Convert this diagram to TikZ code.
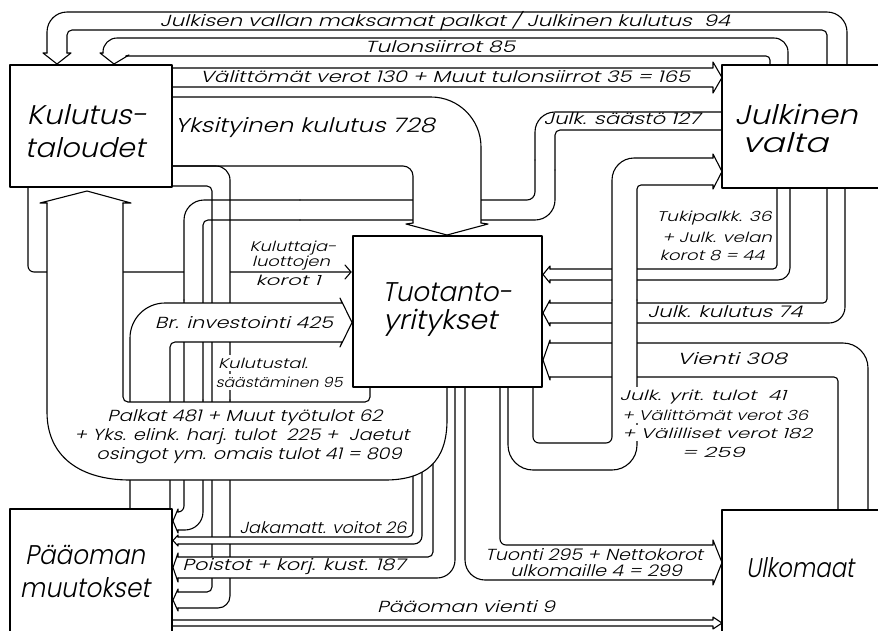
\documentclass[tikz,border=0pt]{standalone}
\usepackage{fontspec}
\usepackage{graphicx}
\setmainfont{DejaVu Sans}
\newfontfamily\tf{Poppins Light}[FakeSlant=0.21]
\newcommand\fitw[2]{\resizebox{#1pt}{\height}{#2}}
\begin{document}
\begin{tikzpicture}[x=1pt,y=-1pt,line width=1.1pt,line join=round,line cap=round]
\tikzset{
 bx/.style={draw,line width=2.2pt,fill=white,inner sep=0pt},
 lb/.style={inner sep=0pt},
 fB/.style={font=\tf\fontsize{27}{30}\selectfont},
 fY/.style={font=\tf\fontsize{20}{22}\selectfont},
 fM/.style={font=\tf\fontsize{16}{18}\selectfont},
 fS/.style={font=\tf\fontsize{14}{16}\selectfont},
 wb/.style={fill=white,inner ysep=3pt}
}
\fill[white] (0,0) rectangle (878,630);
\useasboundingbox (0,0) rectangle (878,630);

% Kuluttajaluottojen korot
\draw[rounded corners=6pt] (28,187) -- (28,272) -- (351,272);
\draw (345,265) -- (351,272) -- (345,279);
\fill[white] (184,262) rectangle (230,282);

% Julk. saasto 127
\draw[rounded corners=20pt] (722,112) -- (535,112) -- (535,160);
\draw[rounded corners=8pt] (535,160) -- (535,200) -- (300,200);
\draw[rounded corners=20pt] (300,200) -- (184,200) -- (184,300);
\draw[rounded corners=6pt] (184,300) -- (184,512) -- (178,512);
\draw[rounded corners=5pt] (722,130) -- (555,130) -- (555,170);
\draw[rounded corners=20pt] (555,170) -- (555,220) -- (300,220);
\draw[rounded corners=5pt] (300,220) -- (203,220) -- (203,400);
\draw[rounded corners=18pt] (203,400) -- (203,530) -- (178,530);
\draw (178,512) -- (178,509) -- (173,521) -- (178,533) -- (178,530);

% Kulutustal. saastaminen 95
\draw[rounded corners=14pt] (172,166) -- (230,166) -- (230,400);
\draw[rounded corners=12pt] (230,400) -- (230,608) -- (178,608);
\draw[rounded corners=5pt] (172,186) -- (212,186) -- (212,592) -- (178,592);
\draw (178,592) -- (178,589) -- (173,600) -- (178,611) -- (178,608);

% Br. investointi 425
\fill[white] (133,303) rectangle (342,342);
\draw[rounded corners=35pt] (130,509) -- (130,303) -- (342,303);
\draw[rounded corners=5pt] (170,509) -- (170,342) -- (342,342);
\draw (342,303) -- (340,298) -- (352,322.5) -- (340,347) -- (342,342);

% Jakamatt. voitot 26
\fill[white] (205,537) rectangle (235,544);
\draw[rounded corners=5pt] (413,387) -- (413,537) -- (178,537);
\draw[rounded corners=8pt] (422,387) -- (422,544) -- (178,544);
\draw (178,537) -- (178,535) -- (173,540.5) -- (178,546) -- (178,544);

% Poistot 187
\fill[white] (205,557) rectangle (235,578);
\draw[rounded corners=5pt] (433,387) -- (433,557) -- (178,557);
\draw[rounded corners=18pt] (455,387) -- (455,578) -- (178,578);
\draw (178,557) -- (178,553) -- (173,567.5) -- (178,582) -- (178,578);

% Palkat ... = 809
\fill[white] (447,387) -- (447,420) .. controls (447,462) and (425,480) .. (385,480) -- (130,480) .. controls (82,480) and (47,458) .. (47,412) -- (47,203) -- (123,203) -- (123,402) -- (370,402) -- (370,387) -- cycle;
\draw (447,387) -- (447,420) .. controls (447,462) and (425,480) .. (385,480) -- (130,480) .. controls (82,480) and (47,458) .. (47,412) -- (47,203);
\draw[rounded corners=5pt] (123,203) -- (123,402) -- (370,402) -- (370,387);
\draw (47,203) -- (40,203) -- (87,191) -- (131,203) -- (123,203);

% Yksityinen kulutus 728
\fill[white] (413,180) rectangle (481,223);
\draw[rounded corners=50pt] (172,97) -- (481,97) -- (481,223);
\draw[rounded corners=10pt] (172,166) -- (413,166) -- (413,223);
\draw (413,223) -- (406,224) -- (447,235) -- (488,224) -- (481,223);

% Tukipalkk. 44
\draw[rounded corners=12pt] (790,188) -- (790,280) -- (550,280);
\draw[rounded corners=4pt] (777,188) -- (777,269) -- (550,269);
\draw (550,269) -- (550,266) -- (543,274.5) -- (550,283) -- (550,280);

% Julk. kulutus 74
\draw[rounded corners=16pt] (845,188) -- (845,323) -- (550,323);
\draw[rounded corners=4pt] (827,188) -- (827,303) -- (550,303);
\draw (550,303) -- (550,300) -- (543,313) -- (550,326) -- (550,323);

% Vienti 308
\draw[rounded corners=25pt] (868,510) -- (868,343) -- (550,343);
\draw[rounded corners=4pt] (838,510) -- (838,377) -- (550,377);
\draw (550,343) -- (550,340) -- (543,360) -- (550,380) -- (550,377);

% 259
\fill[white] (612,186) rectangle (637,443);
\draw[rounded corners=25pt] (508,387) -- (508,470) -- (637,470) -- (637,300);
\draw[rounded corners=4pt] (637,300) -- (637,185) -- (713,185);
\draw[rounded corners=6pt] (533,387) -- (533,443) -- (612,443) -- (612,300);
\draw[rounded corners=22pt] (612,300) -- (612,158) -- (713,158);
\draw (713,158) -- (713,154) -- (722,171.5) -- (713,189) -- (713,185);

% Julkisen vallan maksamat palkat 94
\draw[rounded corners=20pt] (847,65) -- (847,12) -- (47,12) -- (47,53);
\draw[rounded corners=5pt] (827,65) -- (827,30) -- (67,30) -- (67,53);
\draw (47,53) -- (43,53) -- (57,64) -- (71,53) -- (67,53);

% Tulonsiirrot 85
\draw[rounded corners=14pt] (788,65) -- (788,38) -- (103,38) -- (103,53);
\draw[rounded corners=4pt] (770,65) -- (770,56) -- (126,56);
\draw (103,53) -- (100,53) -- (114,64) -- (129,55) -- (126,56);

% Valittomat verot 165
\draw (172,68) -- (713,68) -- (713,62) -- (722,77.5) -- (713,93) -- (713,87) -- (172,87);

% Tuonti 299
\draw[rounded corners=20pt] (465,387) -- (465,580) -- (713,580);
\draw[rounded corners=6pt] (500,387) -- (500,545) -- (713,545);
\draw (713,545) -- (713,540) -- (722,562.5) -- (713,585) -- (713,580);

% Paaoman vienti 9
\draw (172,620) -- (713,620) -- (713,617) -- (722,623) -- (713,629) -- (713,626) -- (172,626);

% boxes
\node[bx,minimum width=162pt,minimum height=122pt] (kt) at (91,126) {};
\node[bx,minimum width=162pt,minimum height=123pt] (jv) at (803,126.5) {};
\node[bx,minimum width=189pt,minimum height=151pt] (ty) at (447.5,311.5) {};
\node[bx,minimum width=162pt,minimum height=131pt] (pm) at (91,574.5) {};
\node[bx,minimum width=162pt,minimum height=130pt] (uk) at (803,575) {};

% box labels
\node[lb,fB] (b1a) at (87,115) {\fitw{120}{Kulutus-}};
\node[lb,fB] (b1b) at (85,148) {\fitw{120}{taloudet}};
\node[lb,fB] (b2a) at (796,114) {\fitw{123}{Julkinen}};
\node[lb,fB] (b2b) at (785,143) {\fitw{86}{valta}};
\node[lb,fB] (b3a) at (447,292) {\fitw{130}{Tuotanto-}};
\node[lb,fB] (b3b) at (440,323) {\fitw{114}{yritykset}};
\node[lb,fB] (b4a) at (85,555) {\fitw{120}{Pääoman}};
\node[lb,fB] (b4b) at (85,588) {\fitw{130}{muutokset}};
\node[lb,fB] (b5) at (800,568) {\fitw{108}{Ulkomaat}};

% flow labels
\node[lb,fM] (t1) at (445,21) {\fitw{570}{Julkisen vallan maksamat palkat / Julkinen kulutus\ \ 94}};
\node[lb,fM] (t2) at (440,47) {\fitw{150}{Tulonsiirrot 85}};
\node[lb,fM] (t3) at (445,77) {\fitw{490}{Välittömät verot 130 + Muut tulonsiirrot 35 = 165}};
\node[lb,fY] (t4) at (305,128) {\fitw{260}{Yksityinen kulutus 728}};
\node[lb,fM] (t5) at (622,119) {\fitw{157}{Julk. säästö 127}};
\node[lb,fS] (t6a) at (293,248) {\fitw{87}{Kuluttaja-}};
\node[lb,fS] (t6b) at (291,263) {\fitw{78}{luottojen}};
\node[lb,fS] (t6c) at (288,280) {\fitw{65}{korot 1}};
\node[lb,fM] (t7) at (244,323) {\fitw{178}{Br. investointi 425}};
\node[lb,fS,wb] (t8a) at (263,363) {\fitw{90}{Kulutustal.}};
\node[lb,fS,wb] (t8b) at (279,382) {\fitw{127}{säästäminen 95}};
\node[lb,fM] (t9a) at (245,418) {\fitw{275}{Palkat 481 + Muut työtulot 62}};
\node[lb,fM] (t9b) at (242,437) {\fitw{335}{+ Yks. elink. harj. tulot\ \ 225 +\ \ Jaetut}};
\node[lb,fM] (t9c) at (249,456) {\fitw{305}{osingot ym. omais tulot 41 = 809}};
\node[lb,fS] (t10a) at (714,218) {\fitw{115}{Tukipalkk. 36}};
\node[lb,fS] (t10b) at (717,237) {\fitw{110}{+ Julk. velan}};
\node[lb,fS] (t10c) at (712,255) {\fitw{105}{korot 8 = 44}};
\node[lb,fM] (t11) at (725,312) {\fitw{155}{Julk. kulutus 74}};
\node[lb,fM] (t12) at (732,359) {\fitw{110}{Vienti 308}};
\node[lb,fS,wb] (t13a) at (703,397) {\fitw{167}{Julk. yrit. tulot\ \ 41}};
\node[lb,fS,wb] (t13b) at (715,415) {\fitw{186}{+ Välittömät verot 36}};
\node[lb,fS,wb] (t13c) at (717,433) {\fitw{190}{+ Välilliset verot 182}};
\node[lb,fS] (t13d) at (713,452) {\fitw{63}{= 259}};
\node[lb,fM] (t14) at (323,528) {\fitw{167}{Jakamatt. voitot 26}};
\node[lb,fM] (t15) at (294,567) {\fitw{223}{Poistot + korj. kust. 187}};
\node[lb,fM] (t16a) at (594,555) {\fitw{218}{Tuonti 295 + Nettokorot}};
\node[lb,fM] (t16b) at (596,571) {\fitw{172}{ulkomaille 4 = 299}};
\node[lb,fM] (t17) at (466,607) {\fitw{178}{Pääoman vienti 9}};
\end{tikzpicture}
\end{document}
